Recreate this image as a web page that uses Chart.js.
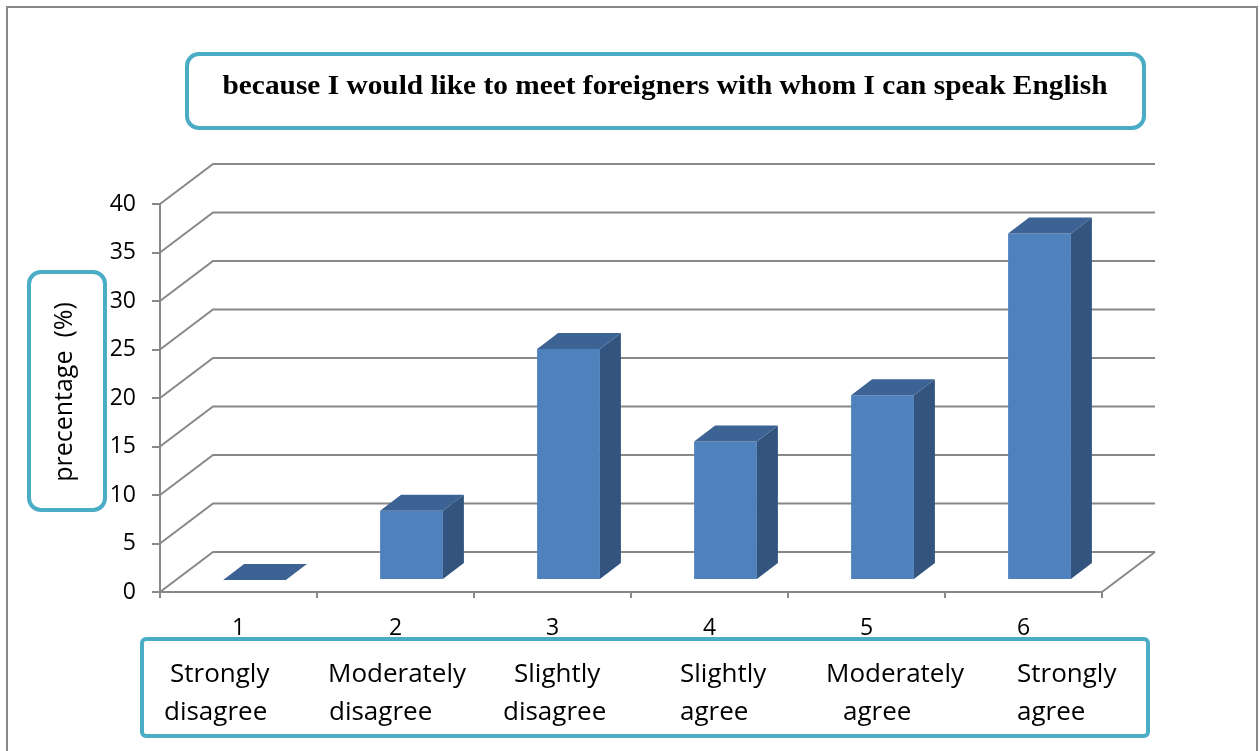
<!DOCTYPE html>
<html>
<head>
<meta charset="utf-8">
<script src="https://cdn.jsdelivr.net/npm/chart.js@4.4.1/dist/chart.umd.min.js"></script>
<style>
  html, body { margin: 0; padding: 0; background: #fff; }
  canvas { display: block; }
</style>
</head>
<body>
<canvas id="barChart" width="1260" height="751"></canvas>
<script>
const categories = ['1', '2', '3', '4', '5', '6'];
const percentages = [0, 7.14, 23.81, 14.29, 19.05, 35.71];
const yTickValues = [0, 5, 10, 15, 20, 25, 30, 35, 40];
const scaleLabels = [
  ['Strongly', 'disagree'],
  ['Moderately', 'disagree'],
  ['Slightly', 'disagree'],
  ['Slightly', 'agree'],
  ['Moderately', 'agree'],
  ['Strongly', 'agree']
];
const chartTitle = 'because I would like to meet foreigners with whom I can speak English';
const yTitle = 'precentage  (%)';

// layout bits (not data)
const labelLeft = [[170, 164], [328, 329], [514, 503], [680, 680], [826, 843], [1017, 1017]];
const WALL_DX = 53, WALL_DY = -40;      // back wall offset
const BAR_DX = 16, BAR_DY = -12;        // bars stand mid-depth on the floor
const BAR_DEPTH_X = 21, BAR_DEPTH_Y = -16;
const TEAL = '#4BACC6';
const GRID = '#888888';
const FONT = 'Open Sans';

const fake3d = {
  id: 'fake3d',
  beforeDatasetsDraw(chart) {
    const { ctx, chartArea: a, scales: { y } } = chart;
    ctx.save();
    ctx.strokeStyle = GRID;
    ctx.lineWidth = 2;
    ctx.beginPath();
    yTickValues.forEach(v => {
      const py = y.getPixelForValue(v);
      ctx.moveTo(a.left, py);
      ctx.lineTo(a.left + WALL_DX, py + WALL_DY);
      ctx.lineTo(a.right + WALL_DX, py + WALL_DY);
    });
    ctx.moveTo(a.right, a.bottom);
    ctx.lineTo(a.right + WALL_DX, a.bottom + WALL_DY);
    ctx.stroke();
    ctx.restore();
    // shift the bars back into the floor
    ctx.save();
    ctx.translate(BAR_DX, BAR_DY);
  },
  afterDatasetsDraw(chart) {
    const ctx = chart.ctx;
    chart.getDatasetMeta(0).data.forEach(bar => {
      const l = bar.x - bar.width / 2, r = bar.x + bar.width / 2;
      const top = bar.y, base = bar.base;
      // side
      ctx.fillStyle = '#32547E';
      ctx.beginPath();
      ctx.moveTo(r, top);
      ctx.lineTo(r + BAR_DEPTH_X, top + BAR_DEPTH_Y);
      ctx.lineTo(r + BAR_DEPTH_X, base + BAR_DEPTH_Y);
      ctx.lineTo(r, base);
      ctx.closePath();
      ctx.fill();
      // top
      ctx.fillStyle = '#3C6393';
      ctx.beginPath();
      ctx.moveTo(l, top);
      ctx.lineTo(r, top);
      ctx.lineTo(r + BAR_DEPTH_X, top + BAR_DEPTH_Y);
      ctx.lineTo(l + BAR_DEPTH_X, top + BAR_DEPTH_Y);
      ctx.closePath();
      ctx.fill();
    });
    ctx.restore();
  },
  afterDraw(chart) {
    const ctx = chart.ctx;
    ctx.save();
    // outer frame
    ctx.strokeStyle = GRID;
    ctx.lineWidth = 2;
    ctx.strokeRect(7, 7, 1250, 760);

    ctx.strokeStyle = TEAL;
    ctx.lineWidth = 4;
    ctx.beginPath();
    ctx.roundRect(187, 54, 957, 74, 12);
    ctx.stroke();
    ctx.beginPath();
    ctx.roundRect(29, 272, 76, 238, 12);
    ctx.stroke();
    ctx.beginPath();
    ctx.roundRect(142, 639, 1006, 97, 4);
    ctx.stroke();

    ctx.fillStyle = '#000';
    ctx.textBaseline = 'middle';
    ctx.textAlign = 'center';
    // title is a bit wider than the font gives, so stretch it to the box
    ctx.font = 'bold 27px "Liberation Serif"';
    const tw = ctx.measureText(chartTitle).width;
    ctx.save();
    ctx.translate(665, 87);
    ctx.scale(885 / tw, 1);
    ctx.fillText(chartTitle, 0, 0);
    ctx.restore();

    ctx.save();
    ctx.translate(65, 392);
    ctx.rotate(-Math.PI / 2);
    ctx.font = '25px "' + FONT + '"';
    ctx.fillText(yTitle, 0, 0);
    ctx.restore();

    ctx.textAlign = 'left';
    ctx.font = '26px "' + FONT + '"';
    scaleLabels.forEach((lines, i) => {
      ctx.fillText(lines[0], labelLeft[i][0], 675);
      ctx.fillText(lines[1], labelLeft[i][1], 713);
    });
    ctx.restore();
  }
};

new Chart(document.getElementById('barChart'), {
  type: 'bar',
  data: {
    labels: categories,
    datasets: [{
      data: percentages,
      backgroundColor: '#4F81BD',
      borderWidth: 0,
      barPercentage: 0.4,
      categoryPercentage: 1,
      clip: false
    }]
  },
  options: {
    responsive: false,
    animation: false,
    layout: { padding: { left: 0, top: 204, right: 158, bottom: 99 } },
    plugins: { legend: { display: false }, tooltip: { enabled: false } },
    scales: {
      x: {
        afterFit: s => { s.height = 60; },
        ticks: { color: '#000', font: { family: FONT, size: 23 }, padding: 17 },
        grid: { offset: true, drawOnChartArea: false, tickLength: 6, color: GRID, lineWidth: 2 },
        border: { color: GRID, width: 2 }
      },
      y: {
        min: 0,
        max: 40,
        afterBuildTicks: s => { s.ticks = yTickValues.map(v => ({ value: v })); },
        afterFit: s => { s.width = 160; },
        ticks: { color: '#000', font: { family: FONT, size: 23 }, padding: 16 },
        grid: { drawOnChartArea: false, tickLength: 8, color: GRID, lineWidth: 2 },
        border: { color: GRID, width: 2 }
      }
    }
  },
  plugins: [fake3d]
});
</script>
</body>
</html>
